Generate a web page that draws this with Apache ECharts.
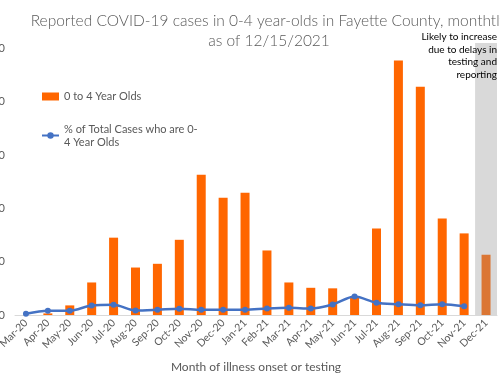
<!DOCTYPE html>
<html>
<head>
<meta charset="utf-8">
<script src="https://cdn.jsdelivr.net/npm/echarts@6/dist/echarts.min.js"></script>
<style>
  html, body { margin: 0; padding: 0; background: #fff; }
  #chart { width: 500px; height: 377px; }
</style>
</head>
<body>
<div id="chart"></div>
<script>
var months = ['Mar-20','Apr-20','May-20','Jun-20','Jul-20','Aug-20','Sep-20','Oct-20','Nov-20','Dec-20','Jan-21',
  'Feb-21','Mar-21','Apr-21','May-21','Jun-21','Jul-21','Aug-21','Sep-21','Oct-21','Nov-21','Dec-21'];
var cases = [0, 3, 18, 61, 145, 89, 96, 141, 263, 220, 229, 121, 61, 51, 50, 35, 162, 477, 428, 181, 153, 113];
var pctOfTotal = [0.23, 0.79, 0.79, 1.78, 1.91, 0.84, 0.98, 1.18, 0.98, 0.98, 0.98, 1.22, 1.35, 1.22, 1.97, 3.47,
  2.29, 2.03, 1.84, 2.03, 1.65];
var delayedMonth = 'Dec-21';
var delayNote = 'Likely to increase\ndue to delays in\ntesting and\nreporting';

(function(){
  var chart = echarts.init(document.getElementById('chart'));
  var font = 'Lato, "Liberation Sans", sans-serif';
  var grey = '#595959';

  // Dec-21 bar is drawn in a duller orange (incomplete month)
  var barData = cases.map(function(v, i){
    if (months[i] === delayedMonth) {
      return {value: v, itemStyle: {color: '#DB7634'}};
    }
    return v;
  });

  chart.setOption({
    animation: false,
    textStyle: {fontFamily: font},
    title: {
      text: 'Reported COVID-19 cases in 0-4 year-olds in Fayette County, monthtly\nas of 12/15/2021',
      left: 264, top: 6, textAlign: 'center',
      textStyle: {fontFamily: font, fontWeight: 300, fontSize: 15.5, color: grey, lineHeight: 20}
    },
    legend: {
      orient: 'vertical', left: 36, top: 86, itemGap: 14,
      itemWidth: 17, itemHeight: 8,
      textStyle: {fontSize: 11, color: grey, fontFamily: font},
      data: [
        {name: '0 to 4 Year Olds', icon: 'rect'},
        {name: '% of Total Cases who are 0-4 Year Olds',
         textStyle: {padding: [13, 0, 0, 0], lineHeight: 13}}
      ],
      formatter: function(n){ return n.replace('are 0-4', 'are 0-\n4'); }
    },
    grid: {left: 15, right: 3, top: 43, bottom: 62, outerBoundsMode: 'none', containLabel: false},
    xAxis: {
      type: 'category', data: months,
      name: 'Month of illness onset or testing', nameLocation: 'middle', nameGap: 46,
      nameTextStyle: {fontSize: 12, color: grey, fontFamily: font},
      axisLine: {lineStyle: {color: '#D9D9D9', width: 1}},
      axisTick: {show: false},
      axisLabel: {rotate: 45, fontSize: 10.5, color: grey, margin: 6, interval: 0}
    },
    yAxis: [
      {type: 'value', min: 0, max: 510, interval: 100,
       axisLabel: {fontSize: 11, color: grey, margin: 10, showMaxLabel: false},
       axisLine: {show: false}, axisTick: {show: false}, splitLine: {show: false}},
      {type: 'value', min: 0, max: 51, interval: 10, show: false, splitLine: {show: false}}
    ],
    graphic: [{
      type: 'text', x: 497, y: 31, z: 100,
      style: {text: delayNote, fontSize: 10, fill: '#000', align: 'right', lineHeight: 12.5, fontFamily: font}
    }],
    series: [
      {
        name: '0 to 4 Year Olds', type: 'bar', data: barData, barWidth: 9,
        itemStyle: {color: '#FF6600'},
        markArea: {
          silent: true,
          itemStyle: {color: '#D9D9D9'},
          data: [[{xAxis: delayedMonth, yAxis: 0}, {xAxis: delayedMonth, yAxis: 510}]]
        },
        z: 3
      },
      {
        name: '% of Total Cases who are 0-4 Year Olds', type: 'line', yAxisIndex: 1,
        data: pctOfTotal, smooth: 0.3,
        symbol: 'circle', symbolSize: 6,
        lineStyle: {color: '#4472C4', width: 2.5},
        itemStyle: {color: '#4472C4'},
        z: 4
      }
    ]
  });
})();
</script>
</body>
</html>
